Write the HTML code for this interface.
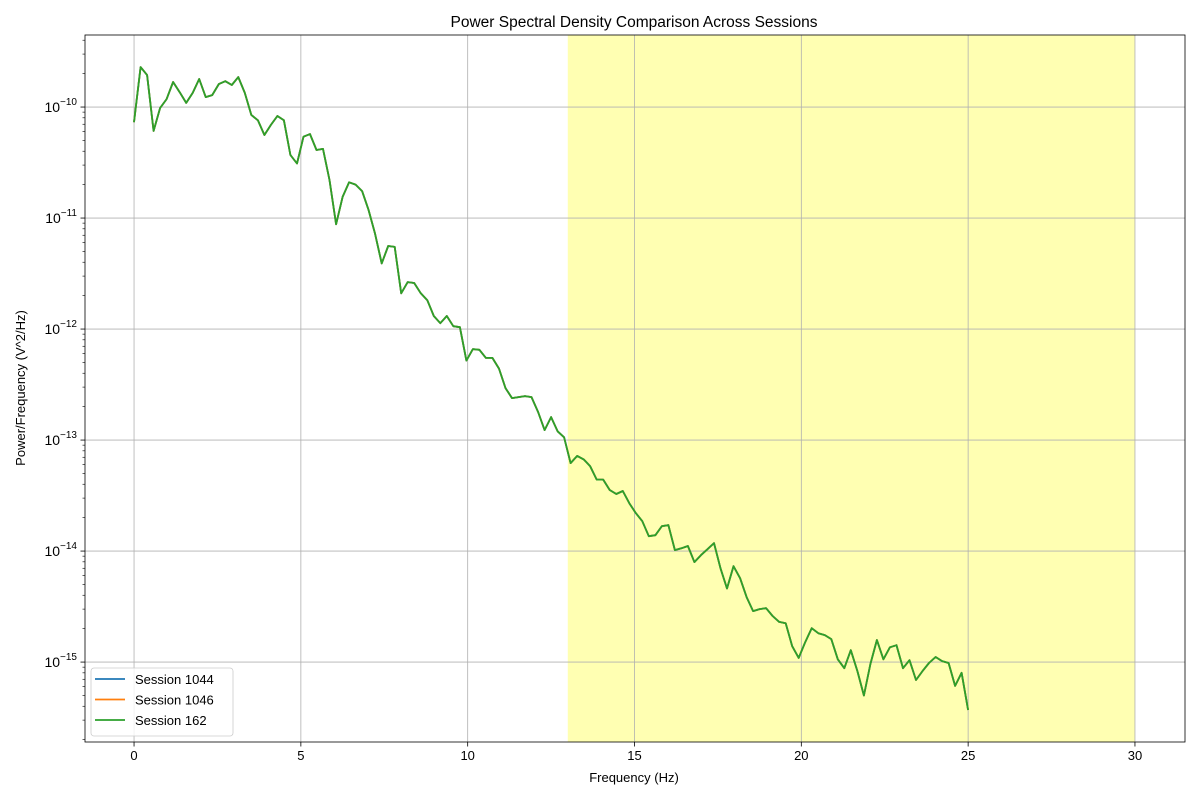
<!DOCTYPE html>
<html><head><meta charset="utf-8">
<style>
body{margin:0;background:#fff;}
svg{display:block;font-family:"Liberation Sans","DejaVu Sans",sans-serif;}
</style></head>
<body>
<svg id="chart" width="1200" height="800">
<rect width="1200" height="800" fill="#fff"/>
<g id="plot"></g>
</svg>
<script>
const psdValues = [7.3e-11,2.29e-10,1.94e-10,6.1e-11,9.8e-11,1.18e-10,1.68e-10,1.36e-10,1.09e-10,1.34e-10,1.79e-10,1.23e-10,1.28e-10,1.61e-10,1.71e-10,1.58e-10,1.86e-10,1.34e-10,8.5e-11,7.6e-11,5.6e-11,6.9e-11,8.3e-11,7.6e-11,3.7e-11,3.1e-11,5.4e-11,5.7e-11,4.1e-11,4.2e-11,2.2e-11,8.8e-12,1.55e-11,2.1e-11,2.0e-11,1.75e-11,1.18e-11,7.2e-12,3.9e-12,5.6e-12,5.5e-12,2.1e-12,2.65e-12,2.6e-12,2.1e-12,1.82e-12,1.31e-12,1.13e-12,1.31e-12,1.06e-12,1.04e-12,5.2e-13,6.6e-13,6.5e-13,5.5e-13,5.5e-13,4.4e-13,2.94e-13,2.39e-13,2.44e-13,2.49e-13,2.44e-13,1.79e-13,1.23e-13,1.61e-13,1.2e-13,1.06e-13,6.2e-14,7.2e-14,6.7e-14,5.8e-14,4.4e-14,4.4e-14,3.55e-14,3.27e-14,3.48e-14,2.7e-14,2.2e-14,1.86e-14,1.36e-14,1.39e-14,1.68e-14,1.71e-14,1.02e-14,1.06e-14,1.11e-14,7.96e-15,9.2e-15,1.04e-14,1.18e-14,7.0e-15,4.6e-15,7.3e-15,5.7e-15,3.85e-15,2.88e-15,3.0e-15,3.06e-15,2.6e-15,2.3e-15,2.24e-15,1.39e-15,1.09e-15,1.51e-15,2.02e-15,1.82e-15,1.75e-15,1.61e-15,1.06e-15,8.8e-16,1.28e-15,8.3e-16,5.0e-16,9.6e-16,1.58e-15,1.06e-15,1.36e-15,1.42e-15,8.8e-16,1.04e-15,6.9e-16,8.3e-16,9.8e-16,1.11e-15,1.02e-15,9.8e-16,6.1e-16,8.0e-16,3.7e-16];
const maxFreq = 25;
const seriesNames = ["Session 1044","Session 1046","Session 162"];
const seriesColors = ["#1f77b4","#ff7f0e","#2ca02c"];
const xTicks = [0,5,10,15,20,25,30];
const yTickExps = [-15,-14,-13,-12,-11,-10];
const bandStart = 13, bandEnd = 30;

const L=85,R=1185,T=35,B=742;
const xMin=-1.47,xMax=31.5;
const yTop=-9.351,yBot=-15.72;
const xs=f=>L+(f-xMin)/(xMax-xMin)*(R-L);
const ys=v=>T+(yTop-Math.log10(v))/(yTop-yBot)*(B-T);
const NS="http://www.w3.org/2000/svg";
const g=document.getElementById('plot');
function mk(tag,attrs,parent){const e=document.createElementNS(NS,tag);for(const k in attrs)e.setAttribute(k,attrs[k]);(parent||g).appendChild(e);return e;}

let band=mk('rect',{x:xs(bandStart),y:T,width:xs(bandEnd)-xs(bandStart),height:B-T,fill:'#ffffb2'});



xTicks.forEach(t=>{
  const x=xs(t);
  let gl=mk('line',{x1:x,x2:x,y1:T,y2:B,stroke:'#b0b0b0','stroke-width':0.8});
  
  
  mk('line',{x1:x,x2:x,y1:B,y2:B+4.5,stroke:'#000','stroke-width':0.8});
  let tx=mk('text',{x:x,y:B+18,'font-size':13,'text-anchor':'middle',fill:'#000'});
  tx.textContent=t;
  
  
});
yTickExps.forEach(e=>{
  const y=ys(Math.pow(10,e));
  let gl=mk('line',{x1:L,x2:R,y1:y,y2:y,stroke:'#b0b0b0','stroke-width':0.8});
  
  
  mk('line',{x1:L-4.5,x2:L,y1:y,y2:y,stroke:'#000','stroke-width':0.8});
  let tx=mk('text',{x:L-8,y:y+5,'font-size':14,'text-anchor':'end',fill:'#000'});
  
  
  const a=document.createElementNS(NS,'tspan');a.textContent='10';tx.appendChild(a);
  const b=document.createElementNS(NS,'tspan');b.setAttribute('dy','-7');b.setAttribute('font-size','10');b.textContent='\u2212'+Math.abs(e);tx.appendChild(b);
});
for(let e=-16;e<=-9;e++){for(let m=2;m<=9;m++){const v=m*Math.pow(10,e);const y=ys(v);if(y<T||y>B)continue;mk('line',{x1:L-2.5,x2:L,y1:y,y2:y,stroke:'#000','stroke-width':0.6});}}

const n=psdValues.length;
seriesNames.forEach((nm,si)=>{
  const pts=psdValues.map((v,i)=>xs(i*maxFreq/(n-1)).toFixed(1)+','+ys(v).toFixed(1)).join(' ');
  let pl=mk('polyline',{points:pts,fill:'none',stroke:seriesColors[si],'stroke-width':1.8,'stroke-linejoin':'round'});
  
  
});

mk('rect',{x:L,y:T,width:R-L,height:B-T,fill:'none',stroke:'#000','stroke-width':0.8});

let lg=mk('g',{});


mk('rect',{x:91,y:668,width:142,height:68,rx:3,fill:'#fff','fill-opacity':0.8,stroke:'#ccc','stroke-width':0.8},lg);
seriesNames.forEach((nm,si)=>{
  const y=679+si*20.5;
  let le=mk('g',{},lg);
  
  
  mk('line',{x1:95,x2:125,y1:y,y2:y,stroke:seriesColors[si],'stroke-width':1.8},le);
  let t=mk('text',{x:135,y:y+5,'font-size':13,fill:'#000'},le);t.textContent=nm;
});

let tt=mk('text',{x:634,y:27,'font-size':15.5,'text-anchor':'middle',fill:'#000'});tt.textContent='Power Spectral Density Comparison Across Sessions';

let xt=mk('text',{x:634,y:782,'font-size':13,'text-anchor':'middle',fill:'#000'});xt.textContent='Frequency (Hz)';

let yt=mk('text',{x:0,y:0,'font-size':13,'text-anchor':'middle',fill:'#000',transform:'translate(25,388) rotate(-90)'});yt.textContent='Power/Frequency (V^2/Hz)';

</script>
</body></html>
